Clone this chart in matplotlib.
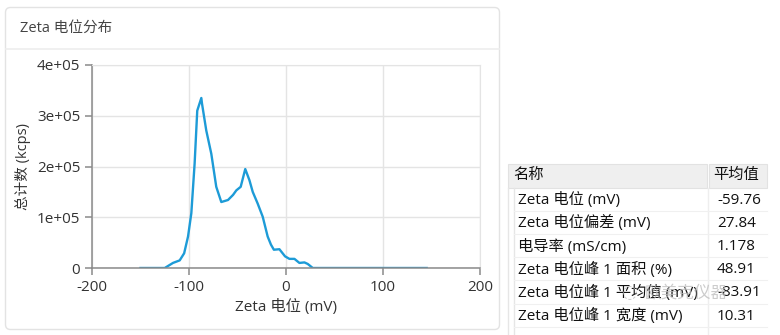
import matplotlib.pyplot as plt
from matplotlib.patches import FancyBboxPatch, Rectangle
from matplotlib.lines import Line2D

plt.rcParams['font.family'] = ['Open Sans', 'Noto Sans CJK SC', 'DejaVu Sans']

# zeta potential distribution
zeta_mv = [-150, -125, -116.5, -109.6, -105, -101, -97.6, -94.2, -91.5, -87.3, -86.6,
           -82.2, -77, -71.9, -66.7, -59.8, -54.6, -51.2, -46.7, -42, -37.7, -34.3,
           -29.2, -24, -18.9, -15.5, -12.5, -6.8, -1, 3.5, 8.7, 13.8, 19, 22.4, 27.6, 145]
counts = [0, 0, 1.0e4, 1.5e4, 2.9e4, 6.2e4, 1.08e5, 2.06e5, 3.1e5, 3.35e5, 3.24e5,
          2.71e5, 2.25e5, 1.6e5, 1.3e5, 1.34e5, 1.44e5, 1.53e5, 1.6e5, 1.95e5, 1.73e5, 1.5e5,
          1.27e5, 1.01e5, 6.2e4, 4.6e4, 3.6e4, 3.7e4, 2.3e4, 1.8e4, 1.8e4, 1.0e4, 1.1e4, 8e3, 0, 0]

x_ticks = [-200, -100, 0, 100, 200]
y_ticks = [0, 1e5, 2e5, 3e5, 4e5]
y_tick_labels = ['0', '1e+05', '2e+05', '3e+05', '4e+05']

table_names = ['Zeta 电位 (mV)', 'Zeta 电位偏差 (mV)', '电导率 (mS/cm)',
               'Zeta 电位峰 1 面积 (%)', 'Zeta 电位峰 1 平均值 (mV)', 'Zeta 电位峰 1 宽度 (mV)']
table_values = ['-59.76', '27.84', '1.178', '48.91', '-83.91', '10.31']

W, H = 780, 335
fig = plt.figure(figsize=(W / 100, H / 100), dpi=100)

# overlay in pixel coordinates for the panel and table
bg = fig.add_axes([0, 0, 1, 1])
bg.set_xlim(0, W)
bg.set_ylim(H, 0)
bg.axis('off')

bg.add_patch(FancyBboxPatch((5.5, 7.5), 494, 322, boxstyle='round,pad=0,rounding_size=5',
                            fc='white', ec='#e3e3e3', lw=1))
bg.add_line(Line2D([6, 499], [48.5, 48.5], color='#eeeeee', lw=1.2))
bg.text(20, 28, 'Zeta 电位分布', fontsize=10.5, color='#444444', va='center', ha='left')

# table
row_h = 23.2
top = 163.5
hdr_bot = 187.5
bg.add_patch(Rectangle((508, top), 199, hdr_bot - top, fc='#efefef', ec='#e2e2e2', lw=0.8))
bg.add_patch(Rectangle((709, top), 58, hdr_bot - top, fc='#efefef', ec='#e2e2e2', lw=0.8))
bg.text(513, 175, '名称', fontsize=11, color='#111111', va='center')
bg.text(713, 175, '平均值', fontsize=11, color='#111111', va='center')
bg.add_line(Line2D([508, 508], [hdr_bot, H], color='#e6e6e6', lw=1))
bg.add_line(Line2D([514, 514], [hdr_bot, H], color='#e6e6e6', lw=1))
bg.add_line(Line2D([708, 708], [hdr_bot, H], color='#eeeeee', lw=1))
for i, (name, val) in enumerate(zip(table_names, table_values)):
    yc = hdr_bot + row_h * (i + 0.5) + 1
    bg.text(518, yc, name, fontsize=11, color='#111111', va='center')
    bg.text(717, yc, val, fontsize=11, color='#111111', va='center')
    yl = hdr_bot + row_h * (i + 1)
    bg.add_line(Line2D([514, 767], [yl, yl], color='#f0f0f0', lw=0.8))

# watermark
bg.text(645, 294, '欧美克仪器', fontsize=12, color='#bbbbbb', alpha=0.75, va='center')
bg.text(622, 293, '◌', fontsize=13, color='#bbbbbb', alpha=0.75, va='center',
        family=['DejaVu Sans'])

# chart
ax = fig.add_axes([92 / W, 1 - 268 / H, 388 / W, 203 / H])
ax.plot(zeta_mv, counts, color='#1d9bd7', lw=1.7, solid_joinstyle='round')
ax.set_xlim(-200, 200)
ax.set_ylim(0, 4e5)
ax.set_xticks(x_ticks)
ax.set_xticklabels([str(t) for t in x_ticks])
ax.set_yticks(y_ticks)
ax.set_yticklabels(y_tick_labels)
ax.grid(True, color='#e4e4e4', lw=1)
ax.set_axisbelow(True)
for s in ['top', 'right']:
    ax.spines[s].set_color('#e4e4e4')
for s in ['left', 'bottom']:
    ax.spines[s].set_color('#8a8a8a')
    ax.spines[s].set_linewidth(1.1)
ax.tick_params(colors='#8a8a8a', labelcolor='#333333', labelsize=11, length=5, width=1.1)
ax.set_xlabel('Zeta 电位 (mV)', fontsize=11, color='#333333', labelpad=3)
ax.set_ylabel('总计数 (kcps)', fontsize=10.5, color='#333333', labelpad=4)

fig.savefig('out.png', dpi=100, facecolor='white')
